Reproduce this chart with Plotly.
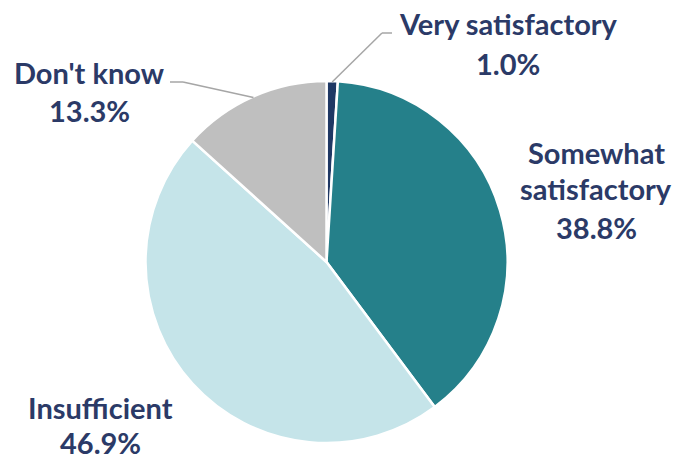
import math
import plotly.graph_objects as go

# Survey answers, clockwise from 12 o'clock
categories = ["Very satisfactory", "Somewhat satisfactory", "Insufficient", "Don't know"]
shares = [1.0, 38.8, 46.9, 13.3]
colors = ["#1F3864", "#25808A", "#C5E4E9", "#BFBFBF"]

W, H = 675, 461
CX, CY, R = 326.5, 262.0, 181.0  # pie centre / radius in pixels (from top-left)
TEXT = "#2B3A67"
FONT = "Lato"

def px(x):
    return x / W

def py(y):
    return 1 - y / H

fig = go.Figure(go.Pie(
    labels=categories,
    values=shares,
    sort=False,
    direction="clockwise",
    rotation=0,
    marker=dict(colors=colors, line=dict(color="white", width=2.5)),
    textinfo="none",
    hoverinfo="label+percent",
    showlegend=False,
    domain=dict(x=[px(CX - R), px(CX + R)], y=[py(CY + R), py(CY - R)]),
))

def edge_point(idx, r_extra=0.0):
    """Pixel point on the pie rim at the middle of slice idx."""
    total = sum(shares)
    start = sum(shares[:idx]) / total * 360
    mid = math.radians(start + shares[idx] / total * 360 / 2)
    r = R + r_extra
    return CX + r * math.sin(mid), CY - r * math.cos(mid)

# label lines: (slice index, centre x, [cap-middle y of each line])
label_pos = {
    0: (508, [24, 64]),
    1: (596, [153, 189, 228]),
    2: (100, [408, 443]),
    3: (89, [73, 112]),
}
label_lines = {
    0: ["Very satisfactory"],
    1: ["Somewhat", "satisfactory"],
    2: ["Insufficient"],
    3: ["Don't know"],
}

annotations = []
for i in range(len(categories)):
    cx, ys = label_pos[i]
    lines = label_lines[i] + [f"{shares[i]:.1f}%"]
    for text, y in zip(lines, ys):
        annotations.append(dict(
            x=px(cx), y=py(y - 1), xref="paper", yref="paper",
            text=f"<b>{text}</b>", showarrow=False,
            xanchor="center", yanchor="middle", borderpad=0,
            font=dict(family=FONT, size=29, color=TEXT),
        ))

# leader lines for the two small slices
shapes = []
ex, ey = edge_point(0, -1)
pts = [(ex, ey), (382, 33), (392, 33)]
for a, b in zip(pts[:-1], pts[1:]):
    shapes.append(dict(type="line", xref="paper", yref="paper",
                       x0=px(a[0]), y0=py(a[1]), x1=px(b[0]), y1=py(b[1]),
                       line=dict(color="#A6A6A6", width=1.5)))
ex, ey = edge_point(3, -1)
pts = [(ex, ey), (183, 82), (170, 82)]
for a, b in zip(pts[:-1], pts[1:]):
    shapes.append(dict(type="line", xref="paper", yref="paper",
                       x0=px(a[0]), y0=py(a[1]), x1=px(b[0]), y1=py(b[1]),
                       line=dict(color="#A6A6A6", width=1.5)))

fig.update_layout(
    width=W, height=H,
    margin=dict(l=0, r=0, t=0, b=0),
    paper_bgcolor="white", plot_bgcolor="white",
    annotations=annotations,
    shapes=shapes,
)

fig.write_html("out.html")
